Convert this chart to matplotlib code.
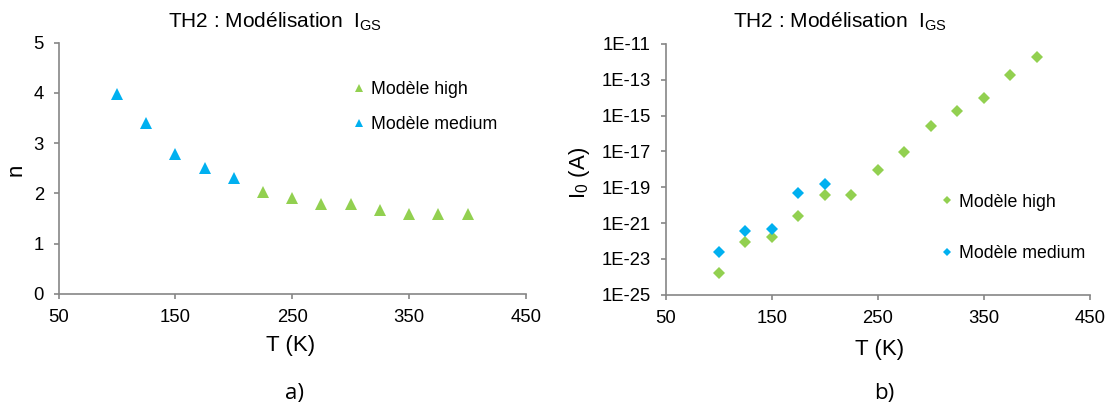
import matplotlib
matplotlib.use("Agg")
import matplotlib.pyplot as plt
from matplotlib.ticker import FixedLocator, FixedFormatter

plt.rcParams['font.family'] = ['Liberation Sans', 'DejaVu Sans']
plt.rcParams['mathtext.default'] = 'regular'

# ---- data ----
T_high = [225, 250, 275, 300, 325, 350, 375, 400]
n_high = [2.02, 1.92, 1.79, 1.79, 1.68, 1.59, 1.59, 1.59]
T_medium = [100, 125, 150, 175, 200]
n_medium = [3.98, 3.40, 2.79, 2.50, 2.30]

T_high_b = [100, 125, 150, 175, 200, 225, 250, 275, 300, 325, 350, 375, 400]
I0_high = [1.6e-24, 8.7e-23, 1.6e-22, 2.5e-21, 3.9e-20, 3.9e-20, 8.9e-19,
           9.1e-18, 2.6e-16, 1.8e-15, 9.3e-15, 1.86e-13, 1.9e-12]
T_medium_b = [100, 125, 150, 175, 200]
I0_medium = [2.5e-23, 3.8e-22, 4.7e-22, 4.6e-20, 1.6e-19]

x_ticks = [50, 150, 250, 350, 450]
n_ticks = [0, 1, 2, 3, 4, 5]
i0_ticks = [1e-25, 1e-23, 1e-21, 1e-19, 1e-17, 1e-15, 1e-13, 1e-11]
i0_labels = ['1E-25', '1E-23', '1E-21', '1E-19', '1E-17', '1E-15', '1E-13', '1E-11']

GREEN = '#92D050'
BLUE = '#00B0F0'
SPINE = '#868686'

W, H = 1110, 405
fig = plt.figure(figsize=(W / 100, H / 100), dpi=100)

def axrect(l, r, t, b):
    return [l / W, 1 - b / H, (r - l) / W, (b - t) / H]

def fx(px):
    return px / W

def fy(py):
    return 1 - py / H

ax1 = fig.add_axes(axrect(58.5, 526, 42.7, 294))
ax2 = fig.add_axes(axrect(665.5, 1090, 44, 294.7))

def style(ax):
    for s in ['top', 'right']:
        ax.spines[s].set_visible(False)
    for s in ['left', 'bottom']:
        ax.spines[s].set_color(SPINE)
        ax.spines[s].set_linewidth(1.2)
    ax.tick_params(axis='both', which='major', direction='out', length=3.6,
                   width=1.2, color=SPINE, labelsize=13.3, labelcolor='black')
    ax.tick_params(axis='y', which='major', pad=7.0)
    ax.tick_params(axis='x', which='major', pad=7.5)
    ax.tick_params(axis='both', which='minor', length=0)
    ax.set_xlim(50, 450)
    ax.xaxis.set_major_locator(FixedLocator(x_ticks))

# ---- left chart ----
style(ax1)
ax1.set_ylim(0, 5)
ax1.yaxis.set_major_locator(FixedLocator(n_ticks))
ax1.plot(T_high, n_high, linestyle='none', marker='^', markersize=8.6,
         color=GREEN, markeredgewidth=0, label='Modèle high', clip_on=False)
ax1.plot(T_medium, n_medium, linestyle='none', marker='^', markersize=8.6,
         color=BLUE, markeredgewidth=0, label='Modèle medium', clip_on=False)
ax1.set_xlabel('T (K)', fontsize=16)
ax1.set_ylabel('n', fontsize=16)
ax1.xaxis.set_label_coords(fx(290.7), fy(346), transform=fig.transFigure)
ax1.xaxis.label.set_va('center')
ax1.yaxis.set_label_coords(fx(16), fy(170), transform=fig.transFigure)
ax1.yaxis.label.set_va('center')
ax1.legend(loc='center left', frameon=False, fontsize=12.8, markerscale=0.62,
           handlelength=0.7, handletextpad=0.3, labelspacing=1.0,
           borderpad=0, borderaxespad=0,
           bbox_to_anchor=(fx(353), fy(107)), bbox_transform=fig.transFigure)

# ---- right chart ----
style(ax2)
ax2.set_yscale('log')
ax2.set_ylim(1e-25, 1e-11)
ax2.yaxis.set_major_locator(FixedLocator(i0_ticks))
ax2.yaxis.set_major_formatter(FixedFormatter(i0_labels))
ax2.yaxis.set_minor_locator(FixedLocator([]))
ax2.plot(T_high_b, I0_high, linestyle='none', marker='D', markersize=6.2,
         color=GREEN, markeredgewidth=0, label='Modèle high', clip_on=False)
ax2.plot(T_medium_b, I0_medium, linestyle='none', marker='D', markersize=6.2,
         color=BLUE, markeredgewidth=0, label='Modèle medium', clip_on=False)
ax2.set_xlabel('T (K)', fontsize=16)
ax2.set_ylabel('I$_0$ (A)', fontsize=16)
ax2.xaxis.set_label_coords(fx(879.5), fy(350), transform=fig.transFigure)
ax2.xaxis.label.set_va('center')
ax2.yaxis.set_label_coords(fx(580), fy(173), transform=fig.transFigure)
ax2.yaxis.label.set_va('center')
ax2.legend(loc='center left', frameon=False, fontsize=12.8, markerscale=0.62,
           handlelength=0.7, handletextpad=0.3, labelspacing=1.95,
           borderpad=0, borderaxespad=0,
           bbox_to_anchor=(fx(941), fy(228)), bbox_transform=fig.transFigure)

# ---- titles and panel labels ----
title = 'TH2 : Modélisation  I$_{GS}$'
fig.text(fx(275), fy(22), title, ha='center', va='center', fontsize=15)
fig.text(fx(840), fy(22), title, ha='center', va='center', fontsize=15)
fig.text(fx(294.5), fy(394), 'a)', ha='center', va='center', fontsize=16,
         family=['Open Sans', 'DejaVu Sans'])
fig.text(fx(884), fy(394), 'b)', ha='center', va='center', fontsize=16,
         family=['Open Sans', 'DejaVu Sans'])

fig.savefig('out.png', dpi=100)
